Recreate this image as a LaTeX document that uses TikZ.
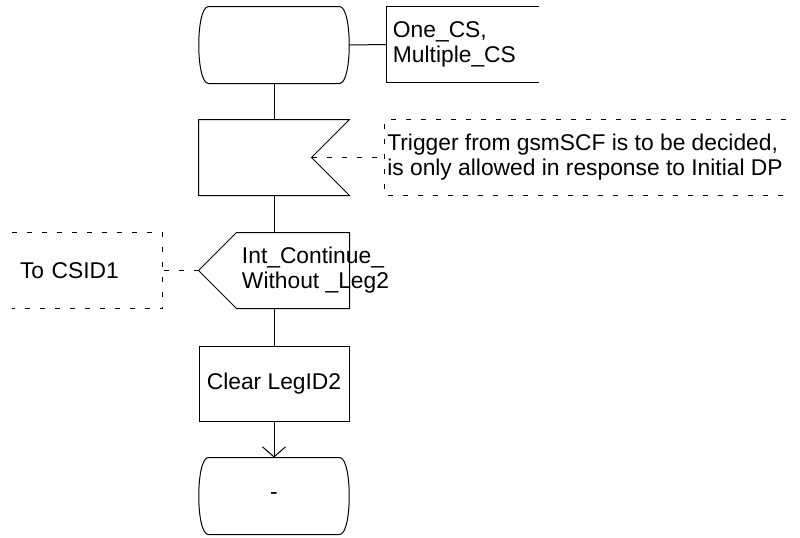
\documentclass[tikz,border=0pt]{standalone}
\usepackage{fontspec}
\setmainfont{Liberation Sans}
\usetikzlibrary{arrows.meta, calc}

\begin{document}
\begin{tikzpicture}[
    x=0.5pt, y=-0.5pt, line width=0.5pt,
    font=\fontsize{11.4}{12.5}\selectfont,
    sdl_box/.style  ={minimum width=75pt, minimum height=37.5pt, inner sep=0pt},
    sdl_state/.style={sdl_box, minimum height=38pt},
    sdl_task/.style ={sdl_box, draw},
    note_box/.style ={inner sep=0pt, minimum height=37.5pt, align=left},
    note_line/.style={dash pattern=on 2.5pt off 5pt},
    flow_arrow/.style={-{Straight Barb[length=5pt, width=11.5pt]}}
]
\useasboundingbox (0,0) rectangle (800,537);

% SDL symbols
\node[sdl_state] (start) at (274,45) {};
\node[sdl_box] (sig_in) at (274,157.5) {};
\node[sdl_box, label={[name=sig_out_txt, anchor=west, inner sep=0pt, align=left, xshift=21.5pt]west:{Int\_Continue\_\\Without \_Leg2}}] (sig_out) at (274,270.5) {};
\node[sdl_task] (clear_leg) at (274,383.5) {Clear LegID2};
\node[sdl_state] (finish) at (274,496) {-};

% Comments
\node[note_box, text width=69.5pt, inner xsep=3pt] (state_note) at (462.5,44.5) {One\_CS,\\Multiple\_CS};
\node[note_box, minimum width=200pt] (trigger_note) at (585,157.5) {Trigger from gsmSCF is to be decided,\\is only allowed in response to Initial DP};
\node[note_box, text width=67pt, inner xsep=4pt] (csid_note) at (87,270.5) {To CSID1};

\coordinate (notch) at ($(sig_in.east)+(-38,0)$);

% Outlines
\foreach \s in {start, finish}
    \draw ($(\s.north west)+(10,0)$) -- ($(\s.north east)+(-10,0)$)
        .. controls +(13,0) and +(13,0) .. ($(\s.south east)+(-10,0)$)
        -- ($(\s.south west)+(10,0)$)
        .. controls +(-13,0) and +(-13,0) .. cycle;
\draw (sig_in.north west) -- (sig_in.north east) -- (notch) -- (sig_in.south east) -- (sig_in.south west) -- cycle;
\draw (sig_out.west) -- ($(sig_out.north west)+(38,0)$) -- (sig_out.north east)
    -- (sig_out.south east) -- ($(sig_out.south west)+(38,0)$) -- cycle;
\draw (state_note.north east) -- (state_note.north west) -- (state_note.south west) -- (state_note.south east);
\draw[note_line] (trigger_note.north east) -- (trigger_note.north west) -- (trigger_note.south west) -- (trigger_note.south east);
\draw[note_line] (csid_note.north west) -- (csid_note.north east) -- (csid_note.south east) -- (csid_note.south west);

% Connectors
\draw (start) -- (sig_in);
\draw (sig_in) -- (sig_out);
\draw (sig_out) -- (clear_leg);
\draw[flow_arrow] (clear_leg) -- (finish);
\draw (start.east) -- (state_note.west);
\draw[note_line] (notch) -- (trigger_note.west);
\draw[note_line] (sig_out.west) -- (csid_note.east);

\end{tikzpicture}
\end{document}
